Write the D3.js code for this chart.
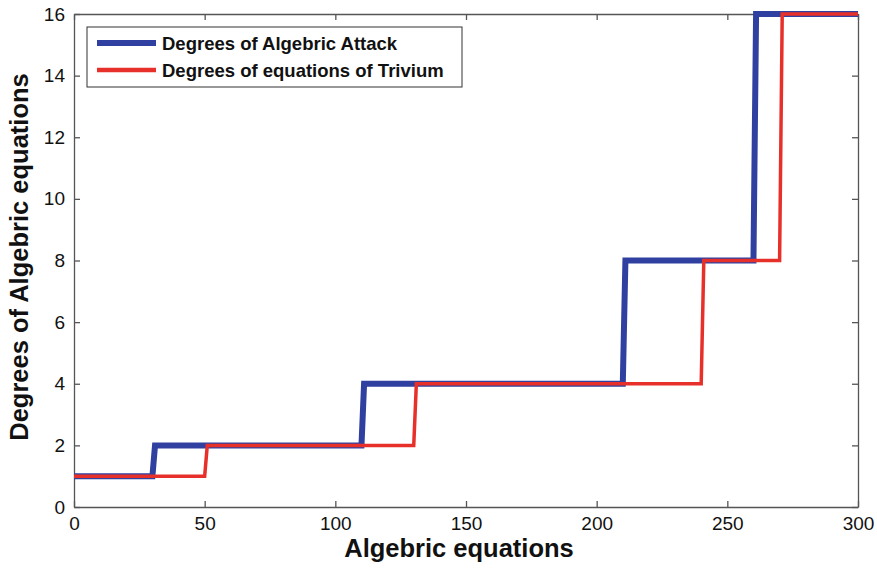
<!DOCTYPE html>
<html>
<head>
<meta charset="utf-8">
<script src="https://cdn.jsdelivr.net/npm/d3@7"></script>
<style>
  body { margin: 0; background: #fff; }
  svg { font-family: Arial, "Liberation Sans", sans-serif; }
</style>
</head>
<body>
<svg id="chart" width="877" height="569"></svg>
<script>
// step points (x, degree)
const attack_x = [0, 30, 31, 110, 111, 210, 211, 260, 261, 300]
const attack_y = [1, 1, 2, 2, 4, 4, 8, 8, 16, 16]
const trivium_x = [0, 50, 51, 130, 131, 240, 241, 270, 271, 300]
const trivium_y = [1, 1, 2, 2, 4, 4, 8, 8, 16, 16]
const x_ticks = [0, 50, 100, 150, 200, 250, 300]
const y_ticks = [0, 2, 4, 6, 8, 10, 12, 14, 16]
const series_names = ['Degrees of Algebric Attack', 'Degrees of equations of Trivium']

const margin = { left: 74, right: 19, top: 14, bottom: 62 }
const width = 877, height = 569

const svg = d3.select('#chart')

const x = d3.scaleLinear().domain([0, 300]).range([margin.left, width - margin.right])
const y = d3.scaleLinear().domain([0, 16]).range([height - margin.bottom, margin.top])

const axis_color = '#555'

// Axes with inward ticks
let x_axis = svg.append('g')
  .attr('transform', `translate(0, ${y(0)})`)
  .call(d3.axisBottom(x).tickValues(x_ticks).tickSizeInner(-6).tickSizeOuter(0).tickPadding(10))
let y_axis = svg.append('g')
  .attr('transform', `translate(${x(0)}, 0)`)
  .call(d3.axisLeft(y).tickValues(y_ticks).tickSizeInner(-6).tickSizeOuter(0).tickPadding(9))
let x_top = svg.append('g')
  .attr('transform', `translate(0, ${y(16)})`)
  .call(d3.axisTop(x).tickValues(x_ticks).tickSizeInner(-6).tickSizeOuter(0).tickFormat(''))
let y_right = svg.append('g')
  .attr('transform', `translate(${x(300)}, 0)`)
  .call(d3.axisRight(y).tickValues(y_ticks).tickSizeInner(-6).tickSizeOuter(0).tickFormat(''))

for (let ax of [x_axis, y_axis, x_top, y_right]) {
  ax.selectAll('path, line').attr('stroke', axis_color).attr('stroke-width', 1.3)
  ax.selectAll('text').attr('fill', '#111').style('font-size', '19px').style('font-family', 'Arial, "Liberation Sans", sans-serif')
}

// Lines
const line = d3.line().x(d => x(d[0])).y(d => y(d[1]))
const attack_pts = attack_x.map((v, i) => [v, attack_y[i]])
const trivium_pts = trivium_x.map((v, i) => [v, trivium_y[i]])

svg.append('path')
  .datum(attack_pts)
  .attr('d', line)
  .attr('fill', 'none')
  .attr('stroke', '#2f40a0')
  .attr('stroke-width', 6)

svg.append('path')
  .datum(trivium_pts)
  .attr('d', line)
  .attr('fill', 'none')
  .attr('stroke', '#e8302a')
  .attr('stroke-width', 3.5)

// Legend
let legend = svg.append('g')
legend.append('rect')
  .attr('x', 87).attr('y', 27).attr('width', 375).attr('height', 60)
  .attr('fill', 'white').attr('stroke', '#333').attr('stroke-width', 1)
let legend_items = [
  { name: series_names[0], color: '#2f40a0', w: 6, yy: 43 },
  { name: series_names[1], color: '#e8302a', w: 4.5, yy: 70 }
]
legend_items.forEach(item => {
  legend.append('line')
    .attr('x1', 97).attr('x2', 156).attr('y1', item.yy).attr('y2', item.yy)
    .attr('stroke', item.color).attr('stroke-width', item.w)
  legend.append('text')
    .attr('x', 162).attr('y', item.yy + 6.5)
    .style('font-size', '18.5px').style('font-weight', 'bold')
    .attr('fill', '#111')
    .text(item.name)
})

// Axis titles
svg.append('text')
  .attr('x', 459).attr('y', 557)
  .attr('text-anchor', 'middle')
  .style('font-size', '25.5px').style('font-weight', 'bold')
  .attr('fill', '#111')
  .text('Algebric equations')

svg.append('text')
  .attr('transform', `translate(28, 257) rotate(-90)`)
  .attr('text-anchor', 'middle')
  .style('font-size', '25.5px').style('font-weight', 'bold')
  .attr('fill', '#111')
  .text('Degrees of Algebric equations')
</script>
</body>
</html>
